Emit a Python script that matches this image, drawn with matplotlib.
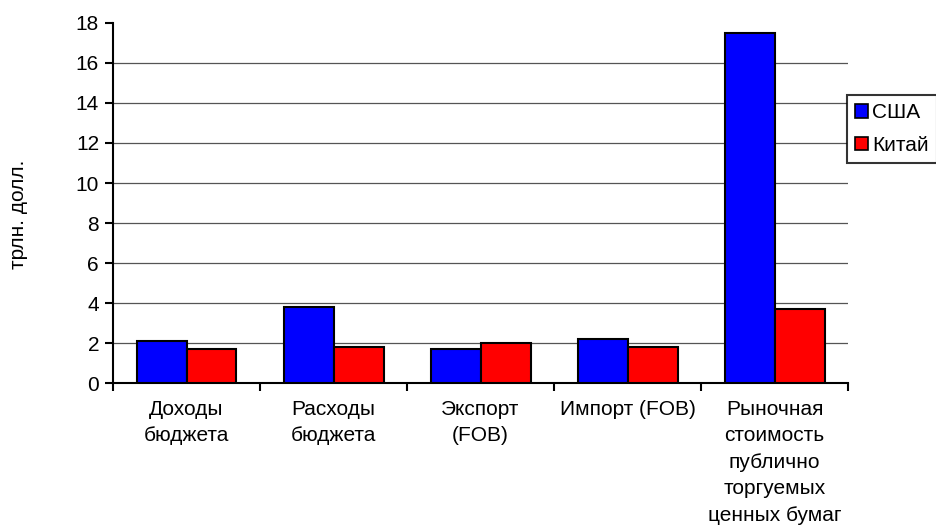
import matplotlib
matplotlib.use("Agg")
import matplotlib.pyplot as plt
import numpy as np
from matplotlib.patches import Patch

plt.rcParams['font.family'] = ['Liberation Sans', 'DejaVu Sans']

categories = ["Доходы\nбюджета", "Расходы\nбюджета", "Экспорт\n(FOB)",
              "Импорт (FOB)", "Рыночная\nстоимость\nпублично\nторгуемых\nценных бумаг"]
series_names = ["США", "Китай"]
usa = [2.1, 3.8, 1.7, 2.2, 17.5]
china = [1.7, 1.8, 2.0, 1.8, 3.7]
colors = ["#0000FF", "#FF0000"]

FS = 15

fig = plt.figure(figsize=(9.37, 5.31), dpi=100)
ax = fig.add_axes([0.1206, 0.2787, 0.7845, 0.678])

x = np.arange(len(categories))
w = 0.34
ax.bar(x - w / 2, usa, w, color=colors[0], edgecolor="black", linewidth=1.5, zorder=3)
ax.bar(x + w / 2, china, w, color=colors[1], edgecolor="black", linewidth=1.5, zorder=3)

ax.set_xlim(-0.5, len(categories) - 0.5)
ax.set_ylim(0, 18)
ax.set_yticks(np.arange(0, 19, 2))
for v in range(2, 18, 2):
    ax.axhline(v, color="#555555", linewidth=0.9, zorder=1)

# category labels centred, tick marks between categories
ax.set_xticks(x)
ax.set_xticklabels(categories, fontsize=FS, linespacing=1.5)
ax.tick_params(axis="x", length=0, pad=12)
ax.set_xticks(np.arange(-0.5, len(categories)), minor=True)
ax.tick_params(axis="x", which="minor", length=6, width=1.5, direction="out")
ax.tick_params(axis="y", length=6, width=1.5, direction="out", labelsize=FS, pad=4)

for side in ("top", "right"):
    ax.spines[side].set_visible(False)
for side in ("left", "bottom"):
    ax.spines[side].set_linewidth(1.5)

fig.text(0.02, 0.597, "трлн. долл.", rotation=90, fontsize=FS, ha="center", va="center")

handles = [Patch(facecolor=c, edgecolor="black", linewidth=1.2) for c in colors]
leg = fig.legend(handles, series_names, loc="upper left", bbox_to_anchor=(0.904, 0.821),
                 fontsize=FS, frameon=True, fancybox=False, shadow=False,
                 handlelength=0.6, handleheight=0.6, handletextpad=0.2,
                 labelspacing=0.65, borderpad=0.4, borderaxespad=0)
leg.get_frame().set_edgecolor("black")
leg.get_frame().set_linewidth(1.5)

fig.savefig("out.png", dpi=100)
